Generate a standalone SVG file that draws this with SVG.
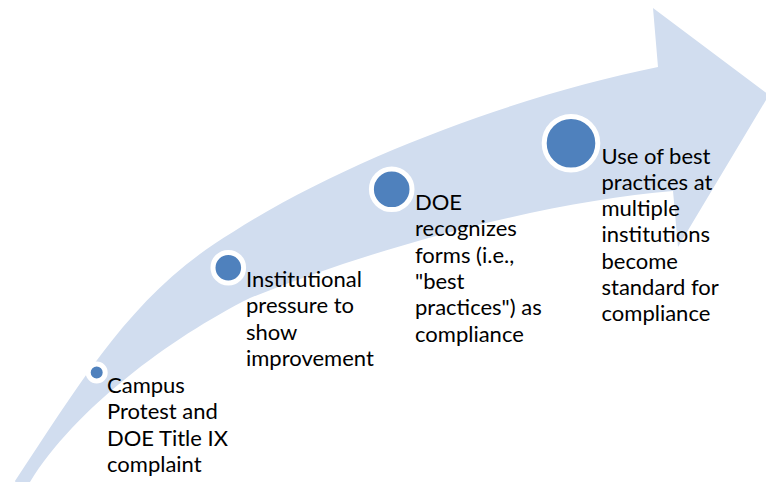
<svg xmlns="http://www.w3.org/2000/svg" width="766" height="482" viewBox="0 0 766 482">
<style>
.arrow{fill:#D1DDEF;stroke:none}
.dot{fill:#4F81BD;stroke:#FFFFFF;stroke-width:5}
.lbl{font-family:Lato,"Liberation Sans",sans-serif;font-size:22px;fill:#000000}
</style>
<rect width="766" height="482" fill="#FFFFFF"/>
<g id="connectors">
<path class="arrow" d="M 15,481 C 85,376 133,292 233,232 C 353,155 528,93 658,67 L 653,8 L 769,95 L 678,247 L 673,191 C 553,201 390,242 250,298 C 170,338 75,409 30,482 L 20,492 Z"/>
</g>
<g id="node1">
<circle class="dot" cx="96.7" cy="372.5" r="8.5"/>
<text class="lbl" x="107" y="393"><tspan x="107">Campus</tspan><tspan x="107" dy="26.3">Protest and</tspan><tspan x="107" dy="26.3">DOE Title IX</tspan><tspan x="107" dy="26.3">complaint</tspan></text>
</g>
<g id="node2">
<circle class="dot" cx="228.3" cy="267.7" r="15.3"/>
<text class="lbl" x="246" y="287"><tspan x="246">Institutional</tspan><tspan x="246" dy="26.3">pressure to</tspan><tspan x="246" dy="26.3">show</tspan><tspan x="246" dy="26.3">improvement</tspan></text>
</g>
<g id="node3">
<circle class="dot" cx="391.7" cy="189.3" r="20.3"/>
<text class="lbl" x="415" y="210"><tspan x="415">DOE</tspan><tspan x="415" dy="26.3">recognizes</tspan><tspan x="415" dy="26.3">forms (i.e.,</tspan><tspan x="415" dy="26.3">"best</tspan><tspan x="415" dy="26.3">practices") as</tspan><tspan x="415" dy="26.3">compliance</tspan></text>
</g>
<g id="node4">
<circle class="dot" cx="571" cy="143.3" r="26.8"/>
<text class="lbl" x="601.5" y="163.5"><tspan x="601.5">Use of best</tspan><tspan x="601.5" dy="26.3">practices at</tspan><tspan x="601.5" dy="26.3">multiple</tspan><tspan x="601.5" dy="26.3">institutions</tspan><tspan x="601.5" dy="26.3">become</tspan><tspan x="601.5" dy="26.3">standard for</tspan><tspan x="601.5" dy="26.3">compliance</tspan></text>
</g>
</svg>
